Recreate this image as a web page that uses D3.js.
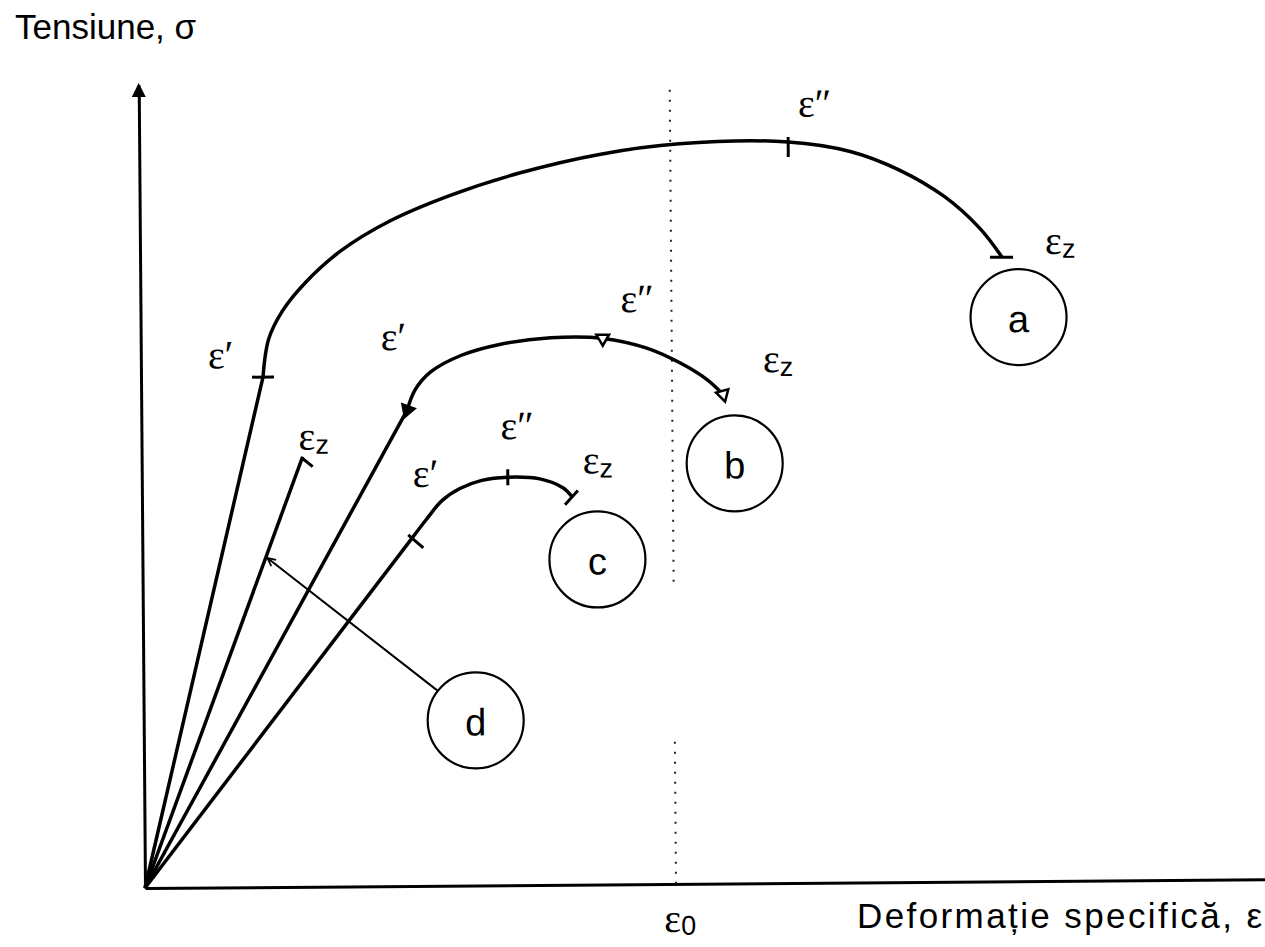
<!DOCTYPE html>
<html lang="ro">
<head>
<meta charset="UTF-8">
<title>Tensiune - deformatie</title>
<script src="https://d3js.org/d3.v7.min.js"></script>
<style>
  body { margin: 0; background: #fff; }
  svg { display: block; }
  .lbl { font-family: "Liberation Serif", "DejaVu Serif", serif; font-size: 40px; }
  .sub { font-family: "Liberation Sans", Arial, sans-serif; font-size: 27px; }
  .title { font-family: "Liberation Sans", Arial, sans-serif; font-size: 35px; }
  .letter { font-family: "Liberation Sans", Arial, sans-serif; font-size: 38px; }
</style>
</head>
<body>
<div id="chart"></div>
<script>
// curve a (elastic end + plastic part), strain / stress in arbitrary units
var curveA = [[12.2,51.0],[12.8,54.8],[14.2,57.6],[16.5,60.4],[20.0,63.5],[25.0,66.5],[31.0,69.0],
              [38.0,71.2],[46.0,73.0],[54.0,74.0],[64.9,74.1],[71.1,73.1],[76.0,71.2],[80.5,68.5],
              [84.0,65.3],[86.2,62.4]];
var curveB = [[26.6,47.6],[27.4,49.6],[29.0,51.4],[32.0,53.0],[36.0,54.1],[41.0,54.7],[46.2,54.6],
              [50.6,53.6],[53.9,52.1],[56.6,50.4],[58.2,48.9]];
var curveC = [[27.0,34.8],[28.4,36.6],[30.0,38.5],[31.8,39.7],[34.0,40.5],[36.6,40.8],[39.8,40.6],
              [42.1,39.7],[43.0,38.8]];
var lineD = [[0,0],[16.1,43.0]];

// characteristic points: eps', eps'', eps_z
var pointsA = [[12.2,51.0],[64.9,74.1],[86.2,62.4]];
var pointsB = [[26.6,47.6],[46.2,54.6],[58.2,48.9]];
var pointsC = [[27.0,34.8],[36.6,40.8],[43.0,38.8]];

// labels of the points
var labelText = ["ε′","ε″","ε","ε′","ε″","ε","ε′","ε″","ε","ε"];
var labelSub  = ["","","z","","","z","","","z","z"];
var labelX    = [6.7,65.9,90.5,24.0,48.0,62.2,27.1,35.9,44.1,15.7];
var labelY    = [53.3,78.0,64.1,55.0,58.6,52.5,41.3,46.0,42.5,45.1];

// circled letters
var circleNames = ["a","b","c","d"];
var circleX = [87.8,59.3,45.5,33.2];
var circleY = [56.4,42.0,32.5,16.5];
var pointerD = [12.5,32.9];

// eps_0 reference line
var eps0 = 53.1;
var eps0Segments = [[0,14.9],[30.2,79.6]];

var W = 1265, H = 947;
var svg = d3.select("#chart").append("svg").attr("width", W).attr("height", H);

var x = d3.scaleLinear().domain([0, 112]).range([145, 1265]);
var y = d3.scaleLinear().domain([0, 80.3]).range([888, 85]);

var g = svg.append("g").attr("transform", "rotate(-0.45," + x(0) + "," + y(0) + ")");

// axes
g.append("g").attr("transform", "translate(0," + y(0) + ")")
  .call(d3.axisBottom(x).tickValues([]).tickSizeOuter(0))
  .select(".domain").attr("stroke", "#000").attr("stroke-width", 3);
g.append("g").attr("transform", "translate(" + x(0) + ",0)")
  .call(d3.axisLeft(y).tickValues([]).tickSizeOuter(0))
  .select(".domain").attr("stroke", "#000").attr("stroke-width", 3);
g.append("path")
  .attr("d", "M" + x(0) + "," + (y(80.3) - 2) + "l-7,14h14z")
  .attr("fill", "#000");

// eps_0 dotted line
g.selectAll(".eps0").data(eps0Segments).enter().append("line")
  .attr("x1", x(eps0)).attr("x2", x(eps0))
  .attr("y1", function(d) { return y(d[0]); })
  .attr("y2", function(d) { return y(d[1]); })
  .attr("stroke", "#222").attr("stroke-width", 2).attr("stroke-dasharray", "2,8");

var straight = d3.line().x(function(d) { return x(d[0]); }).y(function(d) { return y(d[1]); });
var smooth = d3.line().x(function(d) { return x(d[0]); }).y(function(d) { return y(d[1]); })
  .curve(d3.curveCatmullRom.alpha(0.5));

[curveA, curveB, curveC].forEach(function(c) {
  g.append("path").attr("d", straight([[0,0], c[0]]))
    .attr("fill", "none").attr("stroke", "#000").attr("stroke-width", 3.5);
  g.append("path").attr("d", smooth(c))
    .attr("fill", "none").attr("stroke", "#000").attr("stroke-width", 3.5);
});
g.append("path").attr("d", straight(lineD))
  .attr("fill", "none").attr("stroke", "#000").attr("stroke-width", 3.5);

function tick(p, dx1, dy1, dx2, dy2) {
  g.append("line")
    .attr("x1", x(p[0]) + dx1).attr("y1", y(p[1]) + dy1)
    .attr("x2", x(p[0]) + dx2).attr("y2", y(p[1]) + dy2)
    .attr("stroke", "#000").attr("stroke-width", 3);
}
// curve a
tick(pointsA[0], -11, 0, 11, 0);
tick(pointsA[1], 0, -5, 0, 15);
tick(pointsA[2], -12, 0, 11, 0);
// curve c
tick(pointsC[0], -4, -3, 11, 10);
tick(pointsC[1], 0, -8, 0, 8);
tick(pointsC[2], -7, 8, 6, -6);
// line d
tick(lineD[1], -1, 1, 10, 10);

// markers on curve b
var tri = d3.symbol().type(d3.symbolTriangle).size(70);
g.selectAll(".mk").data(pointsB).enter().append("path")
  .attr("d", tri)
  .attr("transform", function(d, i) {
    var r = i === 0 ? 200 : (i === 1 ? 180 : 165);
    return "translate(" + x(d[0]) + "," + y(d[1]) + ") rotate(" + r + ")";
  })
  .attr("fill", function(d, i) { return i === 0 ? "#000" : "#fff"; })
  .attr("stroke", "#000").attr("stroke-width", 2.5);

// labels
var lab = g.selectAll(".lab").data(labelText).enter().append("text")
  .attr("class", "lbl")
  .attr("x", function(d, i) { return x(labelX[i]); })
  .attr("y", function(d, i) { return y(labelY[i]); })
  .attr("dominant-baseline", "central");
lab.append("tspan").text(function(d) { return d; });
lab.append("tspan").attr("class", "sub").attr("dy", 9)
  .text(function(d, i) { return labelSub[i]; });

// eps_0 label
var e0 = g.append("text").attr("class", "lbl")
  .attr("x", x(eps0) - 12).attr("y", y(-3.4)).attr("dominant-baseline", "central");
e0.append("tspan").text("ε");
e0.append("tspan").attr("class", "sub").attr("dy", 8).text("0");

// circles
var R = x(4.8) - x(0);
var cg = g.selectAll(".cir").data(circleNames).enter().append("g")
  .attr("transform", function(d, i) { return "translate(" + x(circleX[i]) + "," + y(circleY[i]) + ")"; });
cg.append("circle").attr("r", R).attr("fill", "none").attr("stroke", "#000").attr("stroke-width", 2.2);
cg.append("text").attr("class", "letter").attr("text-anchor", "middle")
  .attr("dominant-baseline", "central").attr("dy", 2).text(function(d) { return d; });

// pointer from circle d to line d
var px0 = x(pointerD[0]), py0 = y(pointerD[1]);
var cx = x(circleX[3]), cy = y(circleY[3]);
var len = Math.hypot(cx - px0, cy - py0);
var ex = cx - (cx - px0) * R / len, ey = cy - (cy - py0) * R / len;
g.append("line").attr("x1", ex).attr("y1", ey).attr("x2", px0).attr("y2", py0)
  .attr("stroke", "#000").attr("stroke-width", 2);
var ang = Math.atan2(py0 - ey, px0 - ex) * 180 / Math.PI;
g.append("path").attr("d", "M-8,-4L0,0L-8,4")
  .attr("transform", "translate(" + px0 + "," + py0 + ") rotate(" + ang + ")")
  .attr("fill", "none").attr("stroke", "#000").attr("stroke-width", 1.8);

// axis titles
svg.append("text").attr("class", "title").attr("x", 15).attr("y", 39).text("Tensiune, σ");
svg.append("text").attr("class", "title").attr("x", 857).attr("y", 928)
  .attr("textLength", 405).attr("lengthAdjust", "spacing").text("Deformație specifică, ε");
</script>
</body>
</html>
